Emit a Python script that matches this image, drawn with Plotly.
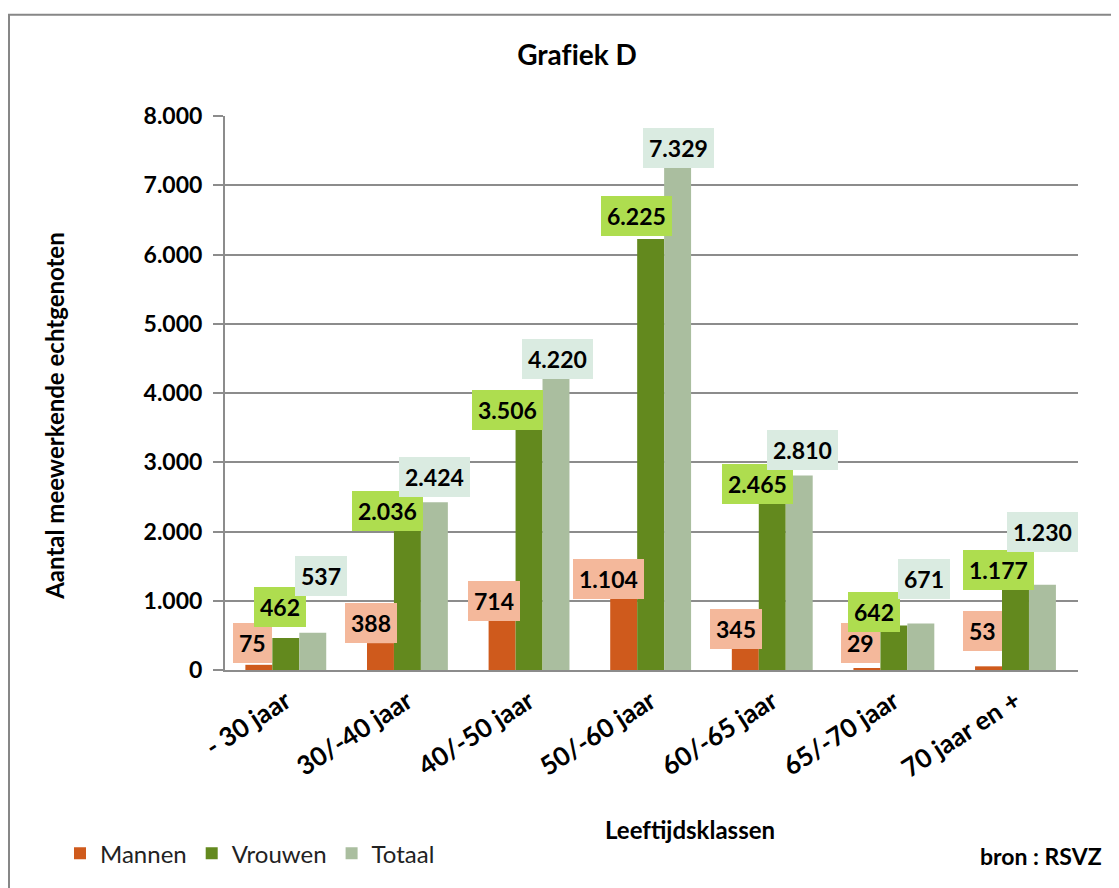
import plotly.graph_objects as go

categories = ["- 30 jaar", "30/-40 jaar", "40/-50 jaar", "50/-60 jaar",
              "60/-65 jaar", "65/-70 jaar", "70 jaar en +"]
mannen = [75, 388, 714, 1104, 345, 29, 53]
vrouwen = [462, 2036, 3506, 6225, 2465, 642, 1177]
totaal = [537, 2424, 4220, 7329, 2810, 671, 1230]
y_ticks = [0, 1000, 2000, 3000, 4000, 5000, 6000, 7000, 8000]

# styling (page has an 8px body margin, so screen px = figure px + 8)
OFF = 8
W, H = 1119 - OFF, 888 - OFF
PX0, PX1, PY0, PY1 = 225, 1078, 116, 674   # plot area on screen
L, R, T, B = PX0 - OFF, W - (PX1 - OFF), PY0 - OFF, H - (PY1 - OFF)
PW, PH = PX1 - PX0, PY1 - PY0
BARGAP = 0.335
BAR_PX = PW / len(categories) * (1 - BARGAP) / 3
FONT = "Lato"

series = [
    ("Mannen", mannen, "#CF5A1C", "#F4B89B",
     [-6, -9, -8, -15, -9, -6, -6], [2, 0, 0, -5, -3, 5, 15]),
    ("Vrouwen", vrouwen, "#63891E", "#AEDD4F",
     [-6, -20, -22, -14, -15, -20, -17], [11, -2, -3, 3, -5, -6, -2]),
    ("Totaal", totaal, "#AABE9F", "#DAEBE1",
     [8, 0, 1, 1, 3, 3, 0], [37, 5, -1, -6, 5, 25, 33]),
]


def fmt(v):
    return f"{v:,}".replace(",", ".")


fig = go.Figure()
annotations = []
for i, (name, vals, col, boxcol, dxs, dys) in enumerate(series):
    fig.add_trace(go.Bar(name=name, x=categories, y=vals,
                         marker=dict(color=col, line=dict(width=0))))
    for c, v, dx, dy in zip(categories, vals, dxs, dys):
        annotations.append(dict(
            x=c, y=v, xref="x", yref="y", text=fmt(v), showarrow=False,
            xanchor="center", yanchor="bottom",
            xshift=(i - 1) * BAR_PX + dx, yshift=dy,
            bgcolor=boxcol, borderpad=6, borderwidth=0,
            font=dict(family=FONT, size=23, color="black", weight="bold")))


def px_x(p):
    return (p - PX0) / PW


def px_y(p):
    return (PY1 - p) / PH


annotations += [
    dict(text="Aantal meewerkende echtgenoten", textangle=-90, showarrow=False,
         xref="paper", yref="paper", x=px_x(55), y=px_y(418),
         xanchor="center", yanchor="middle",
         font=dict(family=FONT, size=24, color="black", weight="bold")),
    dict(text="Leef\u200ctijdsklassen", showarrow=False,
         xref="paper", yref="paper", x=px_x(690), y=px_y(835),
         xanchor="center", yanchor="middle",
         font=dict(family=FONT, size=24, color="black", weight="bold")),
    dict(text="bron : RSVZ", showarrow=False,
         xref="paper", yref="paper", x=px_x(1104), y=px_y(861),
         xanchor="right", yanchor="middle",
         font=dict(family=FONT, size=23, color="black", weight="bold")),
]

fig.update_layout(
    width=W, height=H,
    margin=dict(l=L, r=R, t=T, b=B),
    paper_bgcolor="white", plot_bgcolor="white",
    barmode="group", bargap=BARGAP, bargroupgap=0,
    title=dict(text="Graf\u200ciek D", x=(577 - OFF) / W, y=1 - (55 - OFF) / H,
               xanchor="center", yanchor="middle",
               font=dict(family=FONT, size=28, color="black", weight="bold")),
    font=dict(family=FONT, color="black"),
    legend=dict(orientation="h", x=px_x(60), y=px_y(859),
                xanchor="left", yanchor="middle",
                font=dict(family=FONT, size=24, color="#222222"),
                itemwidth=30, tracegroupgap=0),
    annotations=annotations,
    shapes=[dict(type="rect", xref="paper", yref="paper",
                 x0=px_x(9), x1=px_x(1117), y0=px_y(895), y1=px_y(14),
                 line=dict(color="#878787", width=2), fillcolor="rgba(0,0,0,0)",
                 layer="below")],
)

fig.update_xaxes(
    type="category", showgrid=False, showline=True, linecolor="#8C8C8C",
    linewidth=2, ticks="", tickangle=-33, ticklabelstandoff=4,
    tickfont=dict(family=FONT, size=26, color="black", weight="bold"),
)
fig.update_yaxes(
    range=[0, 8000], tickvals=y_ticks, ticktext=[fmt(v) for v in y_ticks],
    showgrid=True, gridcolor="#8C8C8C", gridwidth=2,
    showline=True, linecolor="#8C8C8C", linewidth=2,
    ticks="outside", ticklen=10, tickcolor="#8C8C8C", tickwidth=2,
    zeroline=False, ticklabelstandoff=6,
    tickfont=dict(family=FONT, size=23, color="black", weight="bold"),
)

fig.write_html("out.html")
